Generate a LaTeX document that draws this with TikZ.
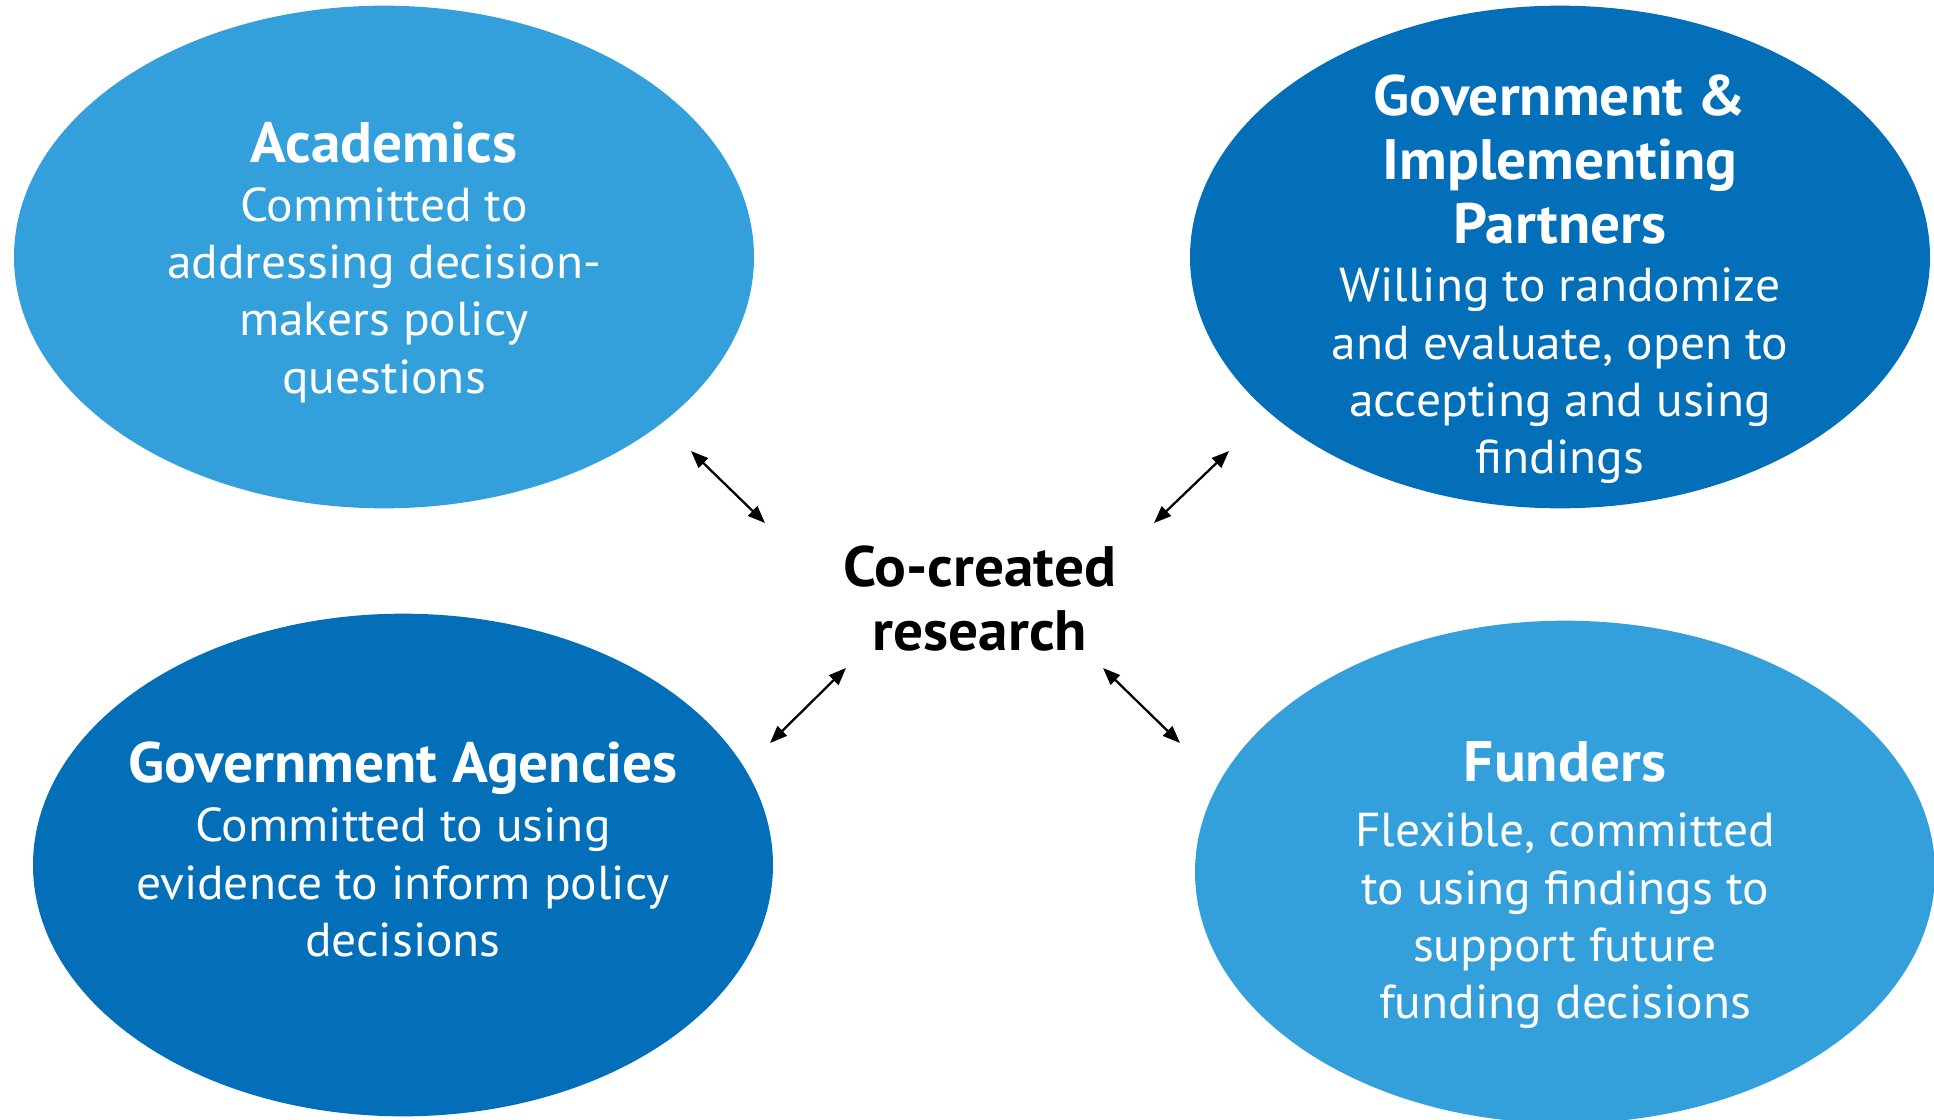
\documentclass[tikz,border=0pt]{standalone}
\usepackage{fontspec}
\setmainfont{PT Sans}[FakeStretch=1.04]
\usetikzlibrary{shapes.geometric,arrows.meta,calc}
\definecolor{lightblue}{RGB}{52,160,219}
\definecolor{darkblue}{RGB}{3,111,185}
\tikzset{every picture/.style={line width=0.75pt}}

\begin{document}
\begin{tikzpicture}[x=0.75pt,y=0.75pt,yscale=-1,xscale=1,
  blob/.style={ellipse, inner sep=0pt, minimum width=555pt, minimum height=377pt},
  head/.style={text=white, align=center, inner sep=0pt, font=\bfseries\fontsize{42.75}{48}\selectfont},
  body/.style={text=white, align=center, inner sep=0pt, font=\fontsize{35.7}{43}\selectfont},
  link/.style={{Triangle[length=13pt,width=10pt]}-{Triangle[length=13pt,width=10pt]}, line width=1.7pt}]
\path[use as bounding box] (0,0) rectangle (1934,1120); %set diagram to 1934 x 1120

%Ellipses
\node[blob, fill=lightblue] (acad) at (384,257) {};
\node[blob, fill=darkblue] (gip) at (1560,257) {};
\node[blob, fill=darkblue] (agency) at (403,865) {};
\node[blob, fill=lightblue] (fund) at (1565,872) {};

% Text Node (base = last line)
\node[head, anchor=base] (acadHead) at ($(acad)+(0,-94)$) {Academics};
\node[body, anchor=base] (acadBody) at ($(acadHead.base)+(0,230)$) {Committed to\\addressing decision-\\makers policy\\questions};
% Text Node
\node[head, anchor=base] (gipHead) at ($(gip)+(0,-14)$) {Government \&\\Implementing\\Partners};
\node[body, anchor=base] (gipBody) at ($(gipHead.base)+(0,230.7)$) {Willing to randomize\\and evaluate, open to\\accepting and using\\findings};
% Text Node
\node[head, anchor=base] (agencyHead) at ($(agency)+(0,-82.3)$) {Government Agencies};
\node[body, anchor=base] (agencyBody) at ($(agencyHead.base)+(0,173.7)$) {Committed to using\\evidence to inform policy\\decisions};
% Text Node
\node[head, anchor=base] (fundHead) at ($(fund)+(0,-91)$) {Funders};
\node[body, anchor=base] (fundBody) at ($(fundHead.base)+(0,237.7)$) {Flexible, committed\\to using findings to\\support future\\funding decisions};
% Text Node
\node[align=center, inner sep=0pt, anchor=base, font=\bfseries\fontsize{42.75}{47.5}\selectfont] (core) at (980,650) {Co-created\\research};

%Straight Lines
\coordinate (acadTip) at (691,451);
\coordinate (coreNW) at (765,523);
\coordinate (gipTip) at (1229,451);
\coordinate (coreNE) at (1154,523);
\coordinate (coreSW) at (846,668);
\coordinate (agencyTip) at (770,743);
\coordinate (coreSE) at (1103,668);
\coordinate (fundTip) at (1180,743);
\draw[link] (acadTip) -- (coreNW);
\draw[link] (gipTip) -- (coreNE);
\draw[link] (coreSW) -- (agencyTip);
\draw[link] (coreSE) -- (fundTip);

\end{tikzpicture}
\end{document}
